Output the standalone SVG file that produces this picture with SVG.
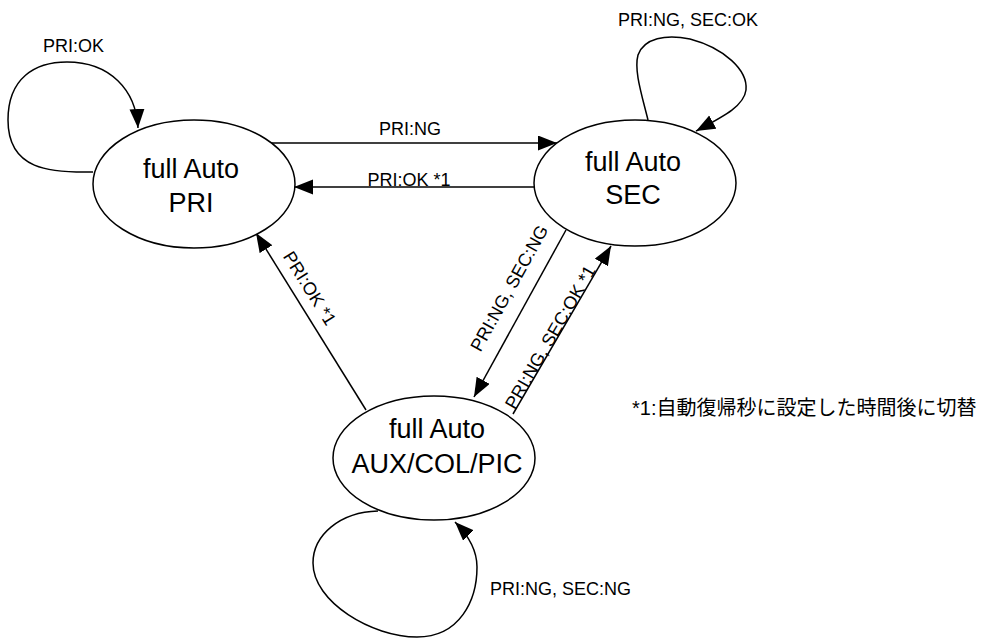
<svg xmlns="http://www.w3.org/2000/svg" width="992" height="639" viewBox="0 0 992 639">
  <style>
    .node ellipse { fill: #ffffff; stroke: #000000; stroke-width: 1.5; }
    .node text { font-family: "Liberation Sans", "Noto Sans CJK JP", sans-serif; font-size: 27px; fill: #000000; text-anchor: middle; }
    .edge { fill: none; stroke: #000000; stroke-width: 1.5; marker-end: url(#arrow); }
    .lbl { font-family: "Liberation Sans", "Noto Sans CJK JP", sans-serif; font-size: 18px; fill: #000000; }
    .mid { text-anchor: middle; }
    .note { font-family: "Liberation Sans", "Noto Sans CJK JP", sans-serif; font-size: 20px; fill: #000000; }
  </style>
  <defs>
    <marker id="arrow" markerUnits="userSpaceOnUse" markerWidth="20" markerHeight="16" refX="19" refY="7.5" orient="auto">
      <path d="M0,0 L19,7.5 L0,15 Z" fill="#000000"/>
    </marker>
  </defs>

  <rect width="992" height="639" fill="#ffffff"/>

  <!-- transitions -->
  <g id="connectors">
    <!-- self loops -->
    <path class="edge" d="M93,172 C50,173 8,170 8,120 C8,78 35,62 67,62 C110,62 136,90 138,128"/>
    <path class="edge" d="M648,120 C641,92 634,70 638,55 C644,38 666,34 690,39 C724,48 748,70 746,90 C744,106 724,116 696,131"/>
    <path class="edge" d="M378,511 C340,512 313,535 313,563 C313,602 372,637 417,637 C460,637 477,600 477,567 C477,550 468,535 455,522"/>
    <!-- PRI <-> SEC -->
    <path class="edge" d="M270,143 L557,143"/>
    <path class="edge" d="M534,187 L294,187"/>
    <!-- AUX -> PRI -->
    <path class="edge" d="M366,410 L256,233"/>
    <!-- SEC <-> AUX -->
    <path class="edge" d="M566,230 L474,397"/>
    <path class="edge" d="M513,414 L611,246"/>

    <!-- transition labels -->
    <text class="lbl" x="43" y="52">PRI:OK</text>
    <text class="lbl" x="618" y="26">PRI:NG, SEC:OK</text>
    <text class="lbl" x="490" y="595">PRI:NG, SEC:NG</text>
    <text class="lbl mid" x="410" y="135">PRI:NG</text>
    <text class="lbl mid" x="409" y="186">PRI:OK *1</text>
    <text class="lbl mid" transform="translate(310,288) rotate(58)" y="6.5">PRI:OK *1</text>
    <text class="lbl mid" transform="translate(509,288) rotate(-61)" y="6.5">PRI:NG, SEC:NG</text>
    <text class="lbl mid" transform="translate(550,337) rotate(-60)" y="6.5">PRI:NG, SEC:OK *1</text>
  </g>

  <!-- states -->
  <g id="state-pri" class="node">
    <ellipse cx="194" cy="184" rx="101" ry="64"/>
    <text x="191" y="178">full Auto</text>
    <text x="191" y="212">PRI</text>
  </g>
  <g id="state-sec" class="node">
    <ellipse cx="635" cy="183" rx="101" ry="63"/>
    <text x="633" y="171">full Auto</text>
    <text x="633" y="204">SEC</text>
  </g>
  <g id="state-aux" class="node">
    <ellipse cx="434" cy="458" rx="101" ry="62"/>
    <text x="437" y="438">full Auto</text>
    <text x="437" y="473">AUX/COL/PIC</text>
  </g>

  <!-- footnote -->
  <text class="note" x="632" y="415">*1:自動復帰秒に設定した時間後に切替</text>
</svg>
